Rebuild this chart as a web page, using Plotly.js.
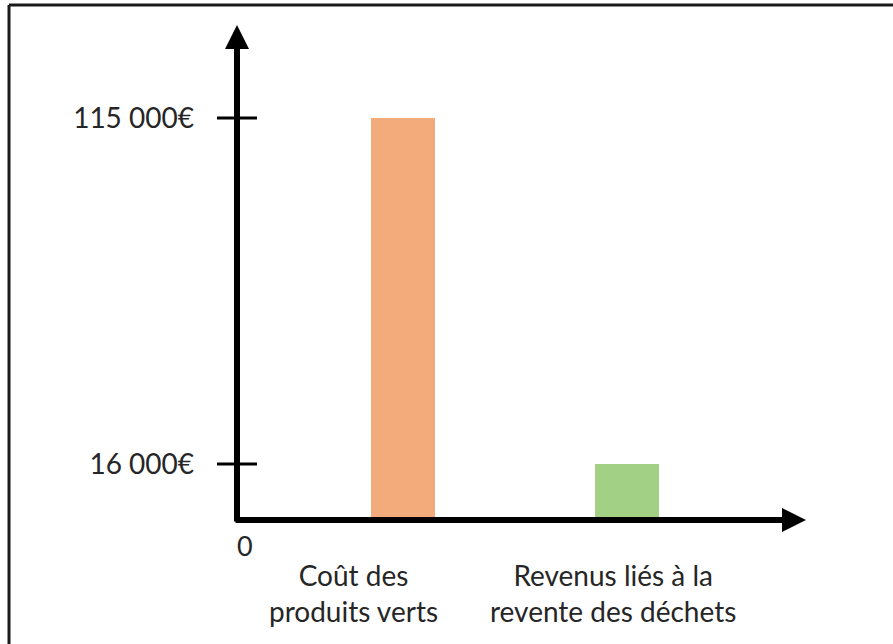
<!DOCTYPE html>
<html>
<head>
<meta charset="utf-8">
<script src="https://cdn.plot.ly/plotly-3.0.1.min.js"></script>
<style>
  html, body { margin: 0; padding: 0; background: #ffffff; }
  #chart { width: 893px; height: 644px; }
</style>
</head>
<body>
<div id="chart"></div>
<script>
// ---- data ----
const categories = ["Coût des<br>produits verts", "Revenus liés à la<br>revente des déchets"];
const values = [115000, 16000];
const barColors = ["#F3AB7C", "#A2D085"];
const tickValues = [16000, 115000];
const tickLabels = ["16 000€", "115 000€"];
const zeroLabel = "0";

// ---- layout geometry ----
const W = 893, H = 644;
const M = { l: 237, r: 87, t: 25, b: 124 };
const plotW = W - M.l - M.r;
const plotH = H - M.t - M.b;
const FONT = "Lato, 'Open Sans', sans-serif";
const TXT = "#262626";
const AX = "#000000";

const px2paperX = p => (p - M.l) / plotW;
const px2paperY = p => (H - M.b - p) / plotH;

const trace = {
  type: "bar",
  x: categories,
  y: values,
  width: 0.29,
  marker: { color: barColors, line: { width: 0 } },
  hoverinfo: "x+y"
};

const shapes = [];
// frame (top and left edges visible)
shapes.push({ type: "line", xref: "paper", yref: "paper",
  x0: px2paperX(9), x1: px2paperX(W + 5), y0: px2paperY(5), y1: px2paperY(5),
  line: { color: "#1a1a1a", width: 3 } });
shapes.push({ type: "line", xref: "paper", yref: "paper",
  x0: px2paperX(9), x1: px2paperX(9), y0: px2paperY(5), y1: px2paperY(H + 5),
  line: { color: "#1a1a1a", width: 3 } });
// tick marks crossing the y axis
tickValues.forEach(v => {
  shapes.push({ type: "line", xref: "paper", yref: "y",
    xsizemode: "pixel", xanchor: 0, x0: -20, x1: 20, y0: v, y1: v,
    line: { color: AX, width: 3 } });
});

const annotations = [];
// y axis arrow
annotations.push({ xref: "paper", yref: "paper", x: 0, y: 1, ax: 0, ay: plotH + 3,
  axref: "pixel", ayref: "pixel", text: "", showarrow: true,
  arrowhead: 2, arrowsize: 0.8, arrowwidth: 6, arrowcolor: AX, standoff: 0 });
// x axis arrow
annotations.push({ xref: "paper", yref: "paper", x: 1, y: 0, ax: -(plotW + 3), ay: 0,
  axref: "pixel", ayref: "pixel", text: "", showarrow: true,
  arrowhead: 2, arrowsize: 0.8, arrowwidth: 6, arrowcolor: AX, standoff: 0 });
// zero label
annotations.push({ xref: "paper", yref: "y", x: 0, y: 0, yshift: -25, xshift: -2,
  text: zeroLabel, showarrow: false, font: { family: FONT, size: 27, color: TXT } });
// category labels
const labelShift = [-50, -14];
categories.forEach((c, i) => {
  annotations.push({ xref: "x", yref: "paper", x: c, y: 0, yanchor: "top",
    xshift: labelShift[i], yshift: -36, text: c, showarrow: false, align: "center",
    font: { family: FONT, size: 28, color: TXT } });
});

const yMax = values[0] / ((H - M.b - 118) / plotH);

const layout = {
  width: W, height: H,
  margin: M,
  paper_bgcolor: "#ffffff",
  plot_bgcolor: "#ffffff",
  showlegend: false,
  bargap: 0,
  xaxis: {
    type: "category",
    range: [-(403 - M.l) / 224, (M.l + plotW - 403) / 224],
    showline: false, showgrid: false, zeroline: false,
    showticklabels: false, ticks: "", fixedrange: true
  },
  yaxis: {
    range: [0, yMax],
    showline: false, showgrid: false, zeroline: false,
    tickmode: "array", tickvals: tickValues, ticktext: tickLabels,
    ticks: "", ticklabelstandoff: 42,
    tickfont: { family: FONT, size: 28, color: TXT },
    fixedrange: true
  },
  shapes: shapes,
  annotations: annotations
};

Plotly.newPlot("chart", [trace], layout, { displayModeBar: false, staticPlot: true });
</script>
</body>
</html>
